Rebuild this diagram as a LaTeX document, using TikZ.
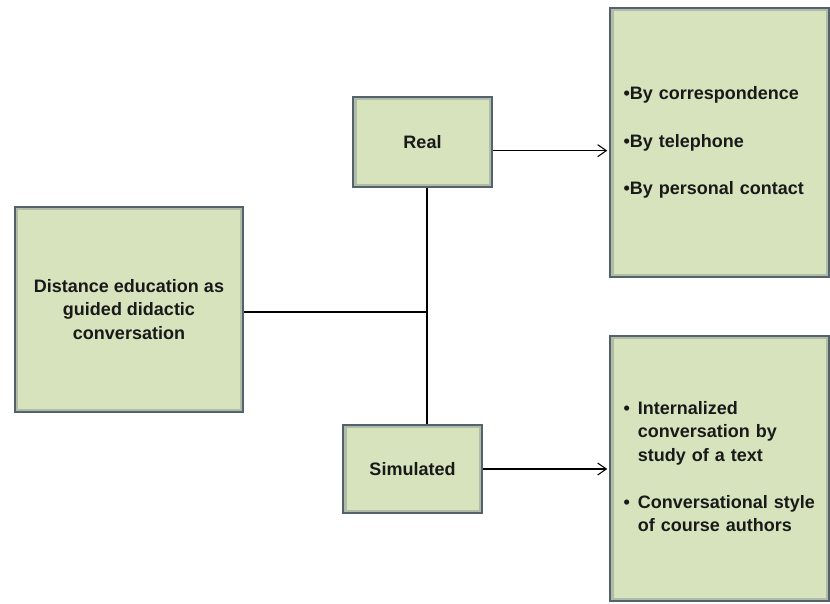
\documentclass[tikz,border=0pt]{standalone}
\usepackage{fontspec}
\usetikzlibrary{arrows.meta}
\setmainfont{Liberation Sans}
\definecolor{boxfill}{RGB}{215,227,189}
\definecolor{boxline}{RGB}{84,98,110}
\definecolor{inktext}{RGB}{25,25,25}
\tikzset{
  greenbox/.style={draw=boxline, line width=1.4pt, fill=boxfill, text=inktext,
    font=\bfseries\fontsize{13.5}{17.5}\selectfont, inner sep=0pt, align=center,
    path picture={\draw[boxline!30!boxfill, line width=5pt]
      (path picture bounding box.south west) rectangle (path picture bounding box.north east);}},
  listbox/.style={greenbox, align=left, text width=144pt, inner xsep=10pt, minimum width=164pt},
  link/.style={line width=1.3pt},
  pointer/.style={line width=0.8pt, -{Straight Barb[length=6.5pt,width=9pt]}, shorten >=1.5pt},
}

\begin{document}
\begin{tikzpicture}[x=0.75pt,y=-0.75pt]
\useasboundingbox (0,0) rectangle (830,603);
\node[greenbox, minimum width=171pt, minimum height=154pt] (dist) at (129,309.5)
  {Distance education as\\guided didactic\\conversation};
\node[greenbox, minimum width=104pt, minimum height=68pt] (real) at (422.5,142) {Real};
\node[greenbox, minimum width=104pt, minimum height=66pt] (sim) at (412.5,469) {Simulated};
\node[listbox, minimum height=202pt] (realways) at (719.5,142.5)
  {\begin{tabular}{@{}l@{}}
   •By correspondence\\[18pt]
   •By telephone\\[18pt]
   •By personal contact
   \end{tabular}};
\node[listbox, minimum height=199pt] (simways) at (719.5,468.5)
  {\begin{tabular}{@{}l@{\hspace{6pt}}l@{}}
   • & Internalized\\
     & conversation by\\
     & study of a text\\[18pt]
   • & Conversational style\\
     & of course authors
   \end{tabular}};
\coordinate (trunk) at (427,312);
\draw[link] (dist.east |- trunk) -- (trunk);
\draw[link] (real.south -| trunk) -- (sim.north -| trunk);
\draw[pointer] ([yshift=-6.5pt]real.east) -- ([yshift=-6.5pt]real.east -| realways.west);
\draw[pointer] (sim.east) -- (sim.east -| simways.west);
\end{tikzpicture}
\end{document}
